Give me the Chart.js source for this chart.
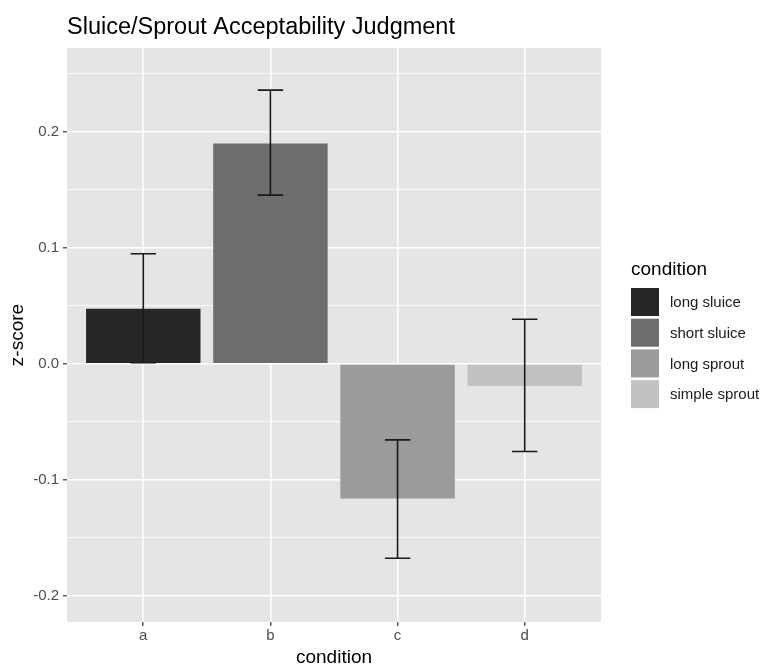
<!DOCTYPE html>
<html>
<head>
<meta charset="utf-8">
<script src="https://cdn.jsdelivr.net/npm/chart.js@4"></script>
<style>
  html, body { margin: 0; padding: 0; background: #fff; }
</style>
</head>
<body>
<canvas id="myChart" width="766" height="667"></canvas>
<script>
const categories = ['a', 'b', 'c', 'd'];
const conditions = ['long sluice', 'short sluice', 'long sprout', 'simple sprout'];
const zScores = [0.0475, 0.190, -0.116, -0.019];
const errLow = [0.001, 0.1455, -0.1675, -0.0755];
const errHigh = [0.095, 0.236, -0.0655, 0.0385];
const yMajor = [-0.2, -0.1, 0, 0.1, 0.2];
const yMinor = [-0.15, -0.05, 0.05, 0.15, 0.25];
const fills = ['#262626', '#6e6e6e', '#9b9b9b', '#c2c2c2'];

const FONT = "'Liberation Sans', Arial, Helvetica, sans-serif";

const isMinor = v => yMinor.some(m => Math.abs(m - v) < 1e-9);

// grey panel behind the grid
const panelBg = {
  id: 'panelBg',
  beforeDraw(chart) {
    const {ctx, chartArea: a} = chart;
    ctx.save();
    ctx.fillStyle = '#e5e5e5';
    ctx.fillRect(a.left, a.top, a.right - a.left, a.bottom - a.top);
    ctx.restore();
  }
};

// error bars drawn on top of the bars
const errorBars = {
  id: 'errorBars',
  afterDatasetsDraw(chart) {
    const {ctx} = chart;
    const xs = chart.scales.x, ys = chart.scales.y;
    const half = (xs.getPixelForValue(1.1) - xs.getPixelForValue(1));
    ctx.save();
    ctx.strokeStyle = '#1a1a1a';
    ctx.lineWidth = 1.6;
    categories.forEach((c, i) => {
      const x = xs.getPixelForValue(i + 1);
      const lo = ys.getPixelForValue(errLow[i]);
      const hi = ys.getPixelForValue(errHigh[i]);
      ctx.beginPath();
      ctx.moveTo(x, lo); ctx.lineTo(x, hi);
      ctx.moveTo(x - half, lo); ctx.lineTo(x + half, lo);
      ctx.moveTo(x - half, hi); ctx.lineTo(x + half, hi);
      ctx.stroke();
    });
    ctx.restore();
  }
};

// title left aligned to the panel, and the ggplot style legend
const extras = {
  id: 'extras',
  afterDraw(chart) {
    const {ctx, chartArea: a} = chart;
    ctx.save();
    ctx.fillStyle = '#000';
    ctx.textBaseline = 'alphabetic';
    ctx.textAlign = 'left';
    ctx.font = '23.5px ' + FONT;
    ctx.fillText('Sluice/Sprout Acceptability Judgment', a.left, 34);

    const x0 = a.right + 30;
    const mid = (a.top + a.bottom) / 2;
    ctx.font = '19px ' + FONT;
    ctx.textBaseline = 'middle';
    ctx.fillText('condition', x0, mid - 65);
    ctx.font = '15px ' + FONT;
    conditions.forEach((name, i) => {
      const top = mid - 47 + i * 30.7;
      ctx.fillStyle = fills[i];
      ctx.fillRect(x0, top, 28, 28);
      ctx.fillStyle = '#1a1a1a';
      ctx.fillText(name, x0 + 39, top + 15);
    });
    ctx.restore();
  }
};

const data = {
  datasets: [{
    label: 'z-score',
    data: categories.map((c, i) => ({x: i + 1, y: zScores[i]})),
    backgroundColor: fills,
    borderWidth: 0,
    barPercentage: 0.9,
    categoryPercentage: 1
  }]
};

const config = {
  type: 'bar',
  data: data,
  options: {
    responsive: false,
    animation: false,
    layout: {padding: {top: 48, right: 165, left: 0, bottom: 0}},
    plugins: {legend: {display: false}, tooltip: {enabled: false}},
    scales: {
      x: {
        type: 'linear',
        offset: false,
        min: 0.4,
        max: 4.6,
        afterBuildTicks: s => { s.ticks = categories.map((c, i) => ({value: i + 1})); },
        afterFit: s => { s.height = 45; },
        ticks: {
          callback: v => categories[v - 1],
          color: '#4d4d4d',
          font: {family: FONT, size: 15},
          padding: 1,
          maxRotation: 0
        },
        grid: {offset: false, color: '#ffffff', lineWidth: 1.6, tickColor: '#333333', tickLength: 4, tickWidth: 1.2},
        border: {display: false},
        title: {display: true, text: 'condition', color: '#000', font: {family: FONT, size: 19, lineHeight: 1}, padding: {top: 0, bottom: 0}}
      },
      y: {
        min: -0.2225,
        max: 0.2723,
        afterBuildTicks: s => { s.ticks = yMajor.concat(yMinor).sort((p, q) => p - q).map(v => ({value: v})); },
        afterFit: s => { s.width = 67; },
        ticks: {
          callback: v => isMinor(v) ? '' : v.toFixed(1),
          color: '#4d4d4d',
          font: {family: FONT, size: 15},
          padding: 4
        },
        grid: {
          color: '#ffffff',
          lineWidth: c => isMinor(c.tick.value) ? 0.8 : 1.6,
          tickColor: c => isMinor(c.tick.value) ? 'rgba(0,0,0,0)' : '#333333',
          tickLength: 4,
          tickWidth: 1.2
        },
        border: {display: false},
        title: {display: true, text: 'z-score', color: '#000', font: {family: FONT, size: 19}, padding: {top: 6, bottom: 0}}
      }
    }
  },
  plugins: [panelBg, errorBars, extras]
};

const myChart = new Chart(document.getElementById('myChart'), config);
</script>
</body>
</html>
